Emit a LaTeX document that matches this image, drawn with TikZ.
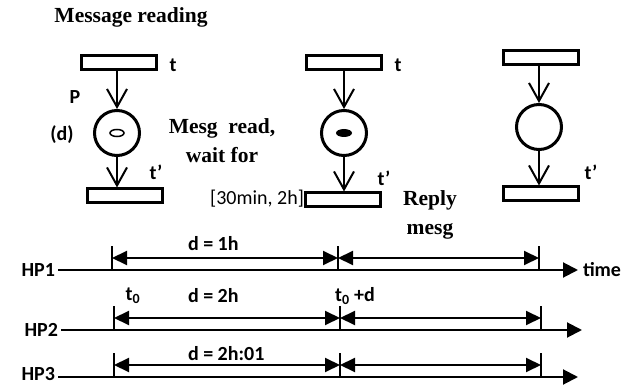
\documentclass[tikz,border=0pt]{standalone}
\usepackage{fontspec}
\setmainfont{Liberation Serif}
\setsansfont{Carlito}
\usetikzlibrary{arrows.meta}

\begin{document}
\begin{tikzpicture}[x=1pt, y=-1pt,
  trans/.style={draw, line width=3pt, minimum width=75pt, minimum height=14pt, inner sep=0pt},
  place/.style={draw, circle, line width=3pt, minimum size=45pt, inner sep=0pt},
  arc/.style={line width=2pt, -{Straight Barb[length=18pt, width=20pt, line width=2pt]}},
  axis/.style={line width=2pt, -{Triangle[length=15pt, width=15pt]}},
  dim/.style={line width=2pt, {Triangle[length=15pt, width=14pt]}-{Triangle[length=15pt, width=14pt]}},
  tick/.style={line width=1.5pt},
  lbl/.style={font=\sffamily\bfseries\fontsize{20}{24}\selectfont, inner sep=0pt, outer sep=0pt},
  plain/.style={font=\sffamily\fontsize{20}{24}\selectfont, inner sep=0pt},
  ser/.style={font=\bfseries\fontsize{21.5}{29}\selectfont, align=center, inner sep=0pt}]
  \useasboundingbox (0,0) rectangle (622,385);

  % Title
  \node[ser] (title) at (131,17) {Message reading};

  % Net 1: token not yet read
  \node[trans] (t1) at (119,63) {};
  \node[place] (p1) at (117,133) {};
  \node[trans] (u1) at (125,196) {};
  \draw[arc] (t1.south -| p1) -- (p1);
  \draw[arc] (p1) -- (p1 |- u1.north);
  \draw[line width=1.5pt] (p1.center) ellipse (7 and 3.5);
  \node[lbl] (tl1) at (173,65) {t};
  \node[lbl] (ul1) at (156,172) {t’};
  \node[lbl] (pl1) at (75,97) {P};
  \node[lbl] (dl1) at (62,135) {(d)};
  \node[ser] (read) at (222,141) {Mesg\ \ read,\\wait for};
  \node[plain] (wait) at (257,199) {[30min, 2h]};

  % Net 2: token read
  \node[trans] (t2) at (344,63) {};
  \node[place] (p2) at (344,133) {};
  \node[trans] (u2) at (343,200) {};
  \draw[arc] (t2.south -| p2) -- (p2);
  \draw[arc] (p2) -- (p2 |- u2.north);
  \fill (p2.center) ellipse (8 and 4);
  \node[lbl] (tl2) at (398,65) {t};
  \node[lbl] (ul2) at (384,178) {t’};
  \node[ser] (reply) at (430,215) {Reply\\mesg};

  % Net 3: empty place
  \node[trans] (t3) at (541,58) {};
  \node[place] (p3) at (539,127) {};
  \node[trans] (u3) at (541,194) {};
  \draw[arc] (t3.south -| p3) -- (p3);
  \draw[arc] (p3) -- (p3 |- u3.north);
  \node[lbl] (ul3) at (591,172) {t’};

  % Time lines
  \foreach \n/\y/\ly/\xs/\xa/\xb/\xc/\xe in {1/270/270/55/112/338/539/578, 2/330/330/58/114/340/541/582, 3/377/374/55/114/340/541/578}{
    \node[lbl, anchor=east, inner xsep=3pt] (hp\n) at (\xs+3,\ly) {HP\n};
    \coordinate (e\n) at (\xe,\y);
    \coordinate (a\n) at (\xa,\y);
    \coordinate (b\n) at (\xb,\y);
    \coordinate (c\n) at (\xc,\y);
    \coordinate (da\n) at (\xa,\y-12);
    \coordinate (db\n) at (\xb,\y-12);
    \coordinate (dc\n) at (\xc,\y-12);
    \draw[axis] (hp\n.east |- a\n) -- (e\n);
    \draw[tick] (a\n) -- ++(0,-24);
    \draw[tick] (b\n) -- ++(0,-24);
    \draw[tick] (c\n) -- ++(0,-24);
    \draw[dim] (da\n) -- (db\n);
    \draw[dim] (db\n) -- (dc\n);
  }
  \node[lbl, anchor=west] (time) at (583,270) {time};
  \node[lbl, anchor=west] (d1) at (188,244) {d = 1h};
  \node[lbl] (t0) at (133,296) {t\textsubscript{0}};
  \node[lbl, anchor=west] (d2) at (188,296) {d = 2h};
  \node[lbl] (t0d) at (355,296) {t\textsubscript{0} +d};
  \node[lbl, anchor=west] (d3) at (188,354) {d = 2h:01};
\end{tikzpicture}
\end{document}
